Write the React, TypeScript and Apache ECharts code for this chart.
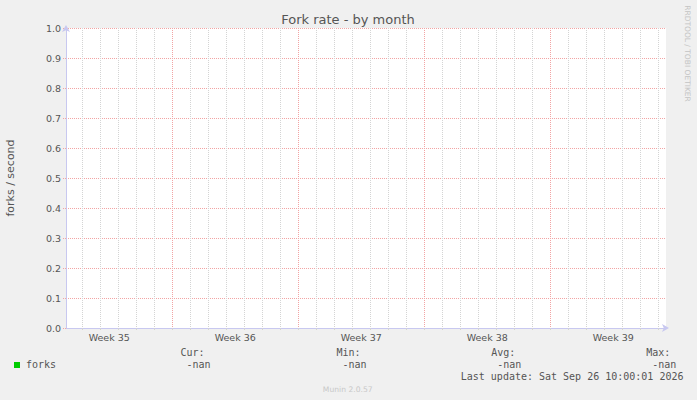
import React, { useEffect, useRef } from 'react';
import * as echarts from 'echarts';

// munin "by month" graph: x is days from the left edge of the plot
const xMax = 33.33;
const weekLabels = ['Week 35', 'Week 36', 'Week 37', 'Week 38', 'Week 39'];
const weekMids = [2.4, 9.4, 16.4, 23.4, 30.4];
const weekStarts = [5.9, 12.9, 19.9, 26.9];
const firstDay = 0.9;

const yMin = 0;
const yMax = 1;
const yStep = 0.1;

// forks is all -nan, nothing to plot
const forksValues: [number, number][] = [];
const statLabels = ['Cur:', 'Min:', 'Avg:', 'Max:'];
const statValues = ['-nan', '-nan', '-nan', '-nan'];
const lastUpdate = 'Last update: Sat Sep 26 10:00:01 2026';

const MONO = '"DejaVu Sans Mono", monospace';
const SANS = '"DejaVu Sans", sans-serif';
const GRID_RED = '#f2a4a4';
const GRID_GRAY = '#d4d4d4';
const AXIS_BLUE = '#c8c8f0';

export default function App() {
  const chartRef = useRef<HTMLDivElement>(null);

  useEffect(() => {
    document.body.style.margin = '0';
    if (!chartRef.current) return;
    const chart = echarts.init(chartRef.current, undefined, { renderer: 'svg' });

    const dayLines: number[] = [];
    for (let d = firstDay; d < xMax; d += 1) dayLines.push(Math.round(d * 10) / 10);
    // week boundaries are red, other days grey
    const lineColors = dayLines.map((d) => (weekStarts.includes(d) ? GRID_RED : GRID_GRAY));

    const statRight = [204.6, 360.6, 515.3, 670.3];
    const texts: any[] = [];
    statLabels.forEach((s, i) => {
      texts.push({
        type: 'text', x: statRight[i], y: 352.5,
        style: { text: s, fontFamily: MONO, fontSize: 10, fill: '#555', align: 'right', verticalAlign: 'middle', textAlign: 'right', textVerticalAlign: 'middle' },
      });
      texts.push({
        type: 'text', x: statRight[i] + 6, y: 364.5,
        style: { text: statValues[i], fontFamily: MONO, fontSize: 10, fill: '#555', align: 'right', verticalAlign: 'middle', textAlign: 'right', textVerticalAlign: 'middle' },
      });
    });

    const option: any = {
      animation: false,
      backgroundColor: '#f0f0f0',
      grid: { left: 66, top: 28, width: 600, height: 300, show: true, backgroundColor: '#ffffff', borderWidth: 0 },
      xAxis: {
        type: 'value',
        min: 0,
        max: xMax,
        axisLine: {
          show: true,
          symbol: ['none', 'arrow'],
          symbolSize: [6, 7],
          symbolOffset: [0, 3],
          lineStyle: { color: AXIS_BLUE, width: 1 },
        },
        axisTick: { show: true, length: 2, customValues: dayLines, lineStyle: { color: GRID_GRAY } },
        axisLabel: {
          customValues: weekMids,
          margin: 4,
          fontFamily: SANS,
          fontSize: 9.5,
          color: '#555',
          formatter: (v: number) => {
            const i = weekMids.findIndex((m) => Math.abs(m - v) < 0.01);
            return i >= 0 ? weekLabels[i] : '';
          },
        },
        splitLine: { show: true, lineStyle: { color: lineColors, type: [1, 1], width: 1 } },
      },
      yAxis: {
        type: 'value',
        min: yMin,
        max: yMax,
        interval: yStep,
        axisLine: {
          show: true,
          symbol: ['none', 'arrow'],
          symbolSize: [6, 7],
          symbolOffset: [0, 3],
          lineStyle: { color: AXIS_BLUE, width: 1 },
        },
        axisTick: { show: true, length: 3, lineStyle: { color: GRID_RED, type: [1, 1] } },
        axisLabel: {
          margin: 5,
          fontFamily: SANS,
          fontSize: 9.5,
          color: '#555',
          formatter: (v: number) => v.toFixed(1),
        },
        splitLine: { show: true, lineStyle: { color: GRID_RED, type: [1, 1], width: 1 } },
      },
      series: [
        {
          name: 'forks',
          type: 'line',
          data: forksValues,
          showSymbol: false,
          itemStyle: { color: '#00cc00' },
          lineStyle: { color: '#00cc00', width: 1 },
        },
      ],
      graphic: [
        {
          type: 'text', x: 348, y: 19,
          style: { text: 'Fork rate - by month', fontFamily: SANS, fontSize: 13, fill: '#555', align: 'center', verticalAlign: 'middle', textAlign: 'center', textVerticalAlign: 'middle' },
        },
        {
          type: 'text', x: 10.5, y: 178, rotation: Math.PI / 2,
          style: { text: 'forks / second', fontFamily: SANS, fontSize: 11, fill: '#555', align: 'center', verticalAlign: 'middle', textAlign: 'center', textVerticalAlign: 'middle' },
        },
        {
          type: 'text', x: 687.5, y: 53.5, rotation: -Math.PI / 2,
          style: { text: 'RRDTOOL / TOBI OETIKER', fontFamily: SANS, fontSize: 7.5, fill: '#c4c4c4', align: 'center', verticalAlign: 'middle', textAlign: 'center', textVerticalAlign: 'middle' },
        },
        { type: 'rect', shape: { x: 14, y: 362, width: 6, height: 6 }, style: { fill: '#00cc00' } },
        {
          type: 'text', x: 26, y: 364.5,
          style: { text: 'forks', fontFamily: MONO, fontSize: 10, fill: '#555', align: 'left', verticalAlign: 'middle', textAlign: 'left', textVerticalAlign: 'middle' },
        },
        ...texts,
        {
          type: 'text', x: 683.5, y: 376.5,
          style: { text: lastUpdate, fontFamily: MONO, fontSize: 10, fill: '#555', align: 'right', verticalAlign: 'middle', textAlign: 'right', textVerticalAlign: 'middle' },
        },
        {
          type: 'text', x: 347.7, y: 389.3,
          style: { text: 'Munin 2.0.57', fontFamily: SANS, fontSize: 7.6, fill: '#c8c8c8', align: 'center', verticalAlign: 'middle', textAlign: 'center', textVerticalAlign: 'middle' },
        },
      ],
    };
    chart.setOption(option);

    return () => {
      chart.dispose();
    };
  }, []);

  return <div ref={chartRef} style={{ width: '697px', height: '400px' }} />;
}
